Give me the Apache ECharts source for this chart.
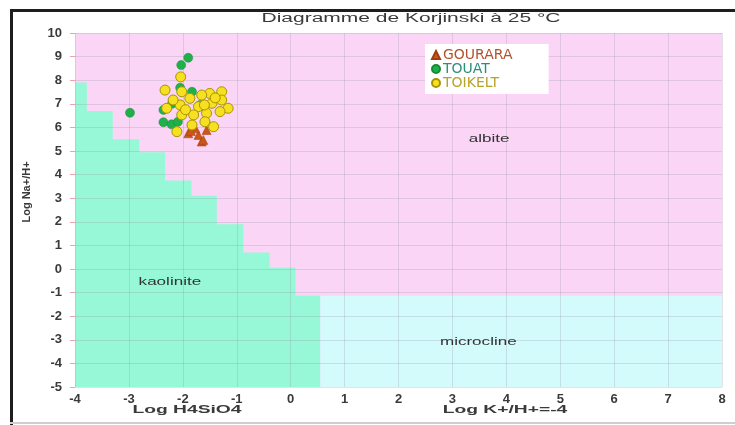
<!DOCTYPE html>
<html><head><meta charset="utf-8">
<script src="https://cdn.jsdelivr.net/npm/echarts@6/dist/echarts.min.js"></script>
<style>html,body{margin:0;padding:0;background:#fff}#c{width:735px;height:425px}</style>
</head><body><div id="c"></div>
<script>
// ---- data ----
const titleText = 'Diagramme de Korjinski à 25 °C';
const xName1 = 'Log H4SiO4';
const xName2 = 'Log K+/H+=-4';
const yName = 'Log Na+/H+';
const seriesNames = ['GOURARA', 'TOUAT', 'TOIKELT'];

// kaolinite / albite staircase boundary (x at step start, top of kaolinite field)
const kaoliniteX   = [-4, -3.78, -3.30, -2.81, -2.33, -1.84, -1.37, -0.88, -0.39, 0.09, 0.55];
const kaoliniteTop = [7.9, 6.7, 5.5, 4.95, 3.75, 3.1, 1.9, 0.7, 0.05, -1.13, -1.13];
// microcline field top boundary
const microclineX   = [0.55, 8];
const microclineTop = [-1.13, -1.13];

// field labels
const fieldNames = ['albite', 'kaolinite', 'microcline'];
const fieldX = [3.68, -2.24, 3.48];
const fieldY = [5.51, -0.55, -3.08];

const gourara = [[-1.90,5.75],[-1.71,5.68],[-1.65,5.40],[-1.56,5.89],[-1.77,5.96],[-1.62,5.47],[-1.56,6.31],[-1.85,5.85]];
const touat = [[-1.90,8.95],[-2.03,8.64],[-2.98,6.62],[-2.05,7.68],[-1.83,7.51],[-2.36,6.74],[-2.36,6.22],[-2.21,6.13],[-2.09,6.24],[-1.68,6.95],[-2.20,7.00]];
const toikelt = [[-2.04,8.14],[-2.33,7.58],[-2.02,7.51],[-1.87,7.23],[-1.50,7.44],[-1.28,7.51],[-1.46,7.02],[-1.16,6.81],[-2.30,6.81],[-2.05,6.95],[-1.71,6.88],[-2.02,6.53],[-1.80,6.53],[-1.56,6.60],[-1.31,6.67],[-1.83,6.10],[-1.59,6.24],[-1.43,6.03],[-2.11,5.82],[-1.28,7.16],[-1.65,7.37],[-2.18,7.16],[-1.95,6.75],[-1.60,6.95],[-1.40,7.25]];

// ---- chart ----
const chart = echarts.init(document.getElementById('c'), null, {renderer: 'canvas'});
const zip = (a, b) => a.map((v, i) => [v, b[i]]);
const txtFont = 'Liberation Sans, Arial, sans-serif';
const centered = {align: 'center', verticalAlign: 'middle', textAlign: 'center', textVerticalAlign: 'middle'};
const gridLine = {show: true, lineStyle: {color: 'rgba(150,150,170,0.28)', width: 1}};

chart.setOption({
  animation: false,
  backgroundColor: '#fff',
  grid: {left: 75, right: 13, top: 33, bottom: 38, show: true, backgroundColor: '#fbd5f6', borderWidth: 0},
  xAxis: {
    type: 'value', min: -4, max: 8, interval: 1, z: 3, position: 'bottom',
    axisLine: {show: false, onZero: false}, axisTick: {show: false},
    splitLine: gridLine,
    axisLabel: {color: '#3a3a3a', fontSize: 13, fontFamily: txtFont, margin: 6, fontWeight: 'bold'}
  },
  yAxis: {
    type: 'value', min: -5, max: 10, interval: 1, z: 3, position: 'left',
    axisLine: {show: true, onZero: false, lineStyle: {color: 'rgba(0,0,0,0)'}},
    axisTick: {show: true, length: 5, lineStyle: {color: '#e8a4ac', width: 1}},
    splitLine: gridLine,
    axisLabel: {color: '#3a3a3a', fontSize: 13, fontFamily: txtFont, margin: 13, fontWeight: 'bold'}
  },
  legend: {
    orient: 'vertical', left: 425, top: 44, itemGap: 0,
    itemWidth: 8, itemHeight: 8,
    backgroundColor: '#ffffff', padding: [4, 36, 4, 6],
    textStyle: {fontSize: 14, lineHeight: 14, fontFamily: 'DejaVu Sans, sans-serif', padding: [0,0,0,-2]},
    data: [
      {name: seriesNames[0], icon: 'triangle', textStyle: {color: '#b4502a'}},
      {name: seriesNames[1], icon: 'circle', textStyle: {color: '#2e8f77'}},
      {name: seriesNames[2], icon: 'circle', textStyle: {color: '#b9a22a'}}
    ]
  },
  graphic: [
    {type: 'text', x: 411, y: 19, scaleX: 1.75, z: 10,
     style: Object.assign({text: titleText, font: '12px ' + txtFont, fill: '#3a3a3a'}, centered)},
    {type: 'text', x: 187, y: 410, scaleX: 1.75, z: 10,
     style: Object.assign({text: xName1, font: 'bold 11px ' + txtFont, fill: '#3a3a3a'}, centered)},
    {type: 'text', x: 505, y: 410, scaleX: 1.75, z: 10,
     style: Object.assign({text: xName2, font: 'bold 11px ' + txtFont, fill: '#3a3a3a'}, centered)},
    {type: 'text', x: 27, y: 192, rotation: Math.PI / 2, z: 10,
     style: Object.assign({text: yName, font: 'bold 11px ' + txtFont, fill: '#3a3a3a'}, centered)},
    {type: 'line', shape: {x1: 10, y1: 10.5, x2: 735, y2: 10.5}, style: {stroke: '#1e1e1e', lineWidth: 3}, z: 20},
    {type: 'line', shape: {x1: 11.5, y1: 9, x2: 11.5, y2: 425}, style: {stroke: '#1e1e1e', lineWidth: 3}, z: 20},
    {type: 'line', shape: {x1: 10, y1: 423, x2: 735, y2: 423}, style: {stroke: '#cfcfcf', lineWidth: 2}, z: 20}
  ],
  series: [
    {type: 'line', name: 'kaolinite', data: zip(kaoliniteX, kaoliniteTop), step: 'end', showSymbol: false, silent: true,
     lineStyle: {width: 0, opacity: 0}, areaStyle: {color: '#96f8d6', opacity: 1, origin: 'start'}, z: 1},
    {type: 'line', name: 'microcline', data: zip(microclineX, microclineTop), showSymbol: false, silent: true,
     lineStyle: {width: 0, opacity: 0}, areaStyle: {color: '#d3fbfc', opacity: 1, origin: 'start'}, z: 1},
    {type: 'custom', name: 'fields', silent: true, z: 4,
     data: fieldNames.map((n, i) => [fieldX[i], fieldY[i]]),
     renderItem: (params, api) => {
       const p = api.coord([api.value(0), api.value(1)]);
       return {type: 'text', x: p[0], y: p[1], scaleX: 1.55,
         style: Object.assign({text: fieldNames[params.dataIndex], font: '11px ' + txtFont, fill: '#333'}, centered)};
     }},
    {type: 'scatter', name: seriesNames[1], data: touat, symbol: 'circle', symbolSize: 9, z: 5,
     itemStyle: {color: '#20b04a', borderColor: '#178a38', borderWidth: 0.5, opacity: 1}},
    {type: 'scatter', name: seriesNames[0], data: gourara, symbol: 'triangle', symbolSize: 9, z: 6,
     itemStyle: {color: '#cc5518', borderColor: '#a04010', borderWidth: 0.5, opacity: 1}},
    {type: 'scatter', name: seriesNames[2], data: toikelt, symbol: 'circle', symbolSize: 10, z: 7,
     itemStyle: {color: '#f6e020', borderColor: '#a89400', borderWidth: 1, opacity: 1}}
  ]
});
</script>
</body></html>
